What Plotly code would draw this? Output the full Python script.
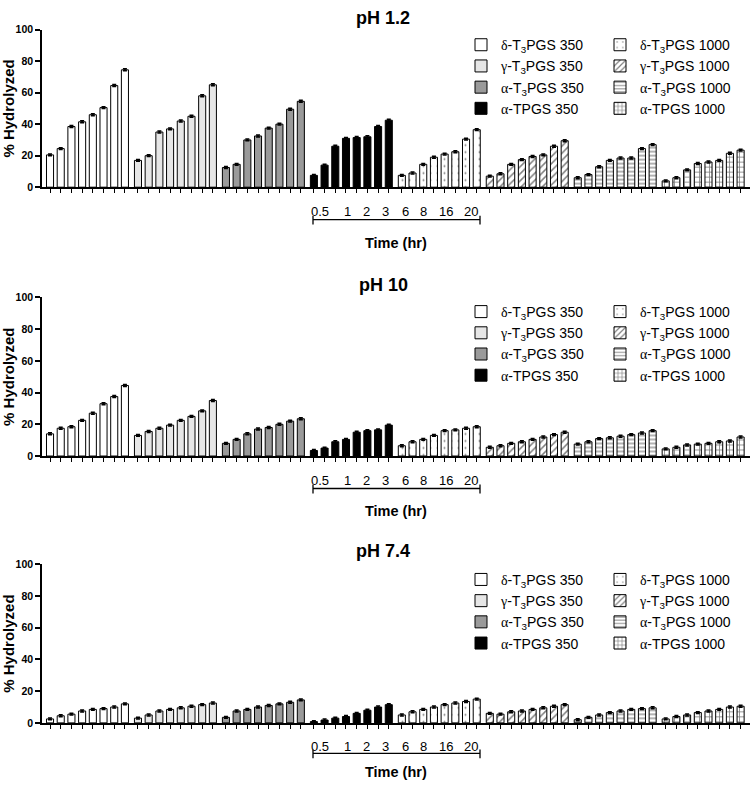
import plotly.graph_objects as go

# ---------------- data ----------------
time_labels = ["0.5", "1", "2", "3", "6", "8", "16", "20"]
panel_titles = ["pH 1.2", "pH 10", "pH 7.4"]

GK = '<span style="font-family:Liberation Serif">%s</span>'
series_names = [
    GK % "δ" + "-T<sub>3</sub>PGS 350",
    GK % "γ" + "-T<sub>3</sub>PGS 350",
    GK % "α" + "-T<sub>3</sub>PGS 350",
    GK % "α" + "-TPGS 350",
    GK % "δ" + "-T<sub>3</sub>PGS 1000",
    GK % "γ" + "-T<sub>3</sub>PGS 1000",
    GK % "α" + "-T<sub>3</sub>PGS 1000",
    GK % "α" + "-TPGS 1000",
]

# pH 1.2
ph12_d350 = [20.5, 24.5, 38.5, 41.5, 46, 50.5, 64.5, 74.5]
ph12_g350 = [17, 20, 35, 37, 42, 45, 58, 65]
ph12_a350 = [12.5, 14.5, 30, 32.5, 37.5, 40, 49.5, 54.5]
ph12_t350 = [7.5, 14, 26, 31, 31.5, 32, 38.5, 42.5]
ph12_d1000 = [7.5, 9, 14.5, 19, 21, 22.5, 30.5, 36.5]
ph12_g1000 = [7, 8.5, 14.5, 17.5, 19.5, 20.5, 26, 29.5]
ph12_a1000 = [6, 8, 13, 17, 18.5, 18.5, 24.5, 27]
ph12_t1000 = [4, 6, 11, 15, 16, 17, 21.5, 23.5]

# pH 10
ph10_d350 = [14, 17.5, 18.5, 22.5, 27, 33, 37.5, 44.5]
ph10_g350 = [13, 15.5, 17.5, 19.5, 22.5, 25, 28.5, 35]
ph10_a350 = [8, 10.5, 14, 17, 18, 20, 22, 23.5]
ph10_t350 = [3.5, 5, 9, 10.5, 15, 16, 16.5, 19.5]
ph10_d1000 = [6.5, 9, 10.5, 13, 16, 16.5, 17.5, 18.5]
ph10_g1000 = [5.5, 6.5, 8, 9, 10.5, 12, 13.5, 15]
ph10_a1000 = [7.5, 9, 11, 11.5, 12.5, 13.5, 14.5, 16]
ph10_t1000 = [4.5, 5.5, 7, 7.5, 8, 9, 9.5, 12]

# pH 7.4
ph74_d350 = [2.5, 4.5, 5.5, 7.5, 8.5, 9, 10, 12]
ph74_g350 = [3, 5, 7.5, 8.5, 9.5, 10.5, 11.5, 12.5]
ph74_a350 = [3.5, 7.5, 8.5, 10, 11, 12, 13, 14.5]
ph74_t350 = [0.8, 1.8, 3, 4, 6, 8, 10, 11.5]
ph74_d1000 = [5, 7, 8.5, 10, 11.5, 12.5, 13.5, 15]
ph74_g1000 = [6, 5.5, 7, 7.5, 8.5, 9.5, 10.5, 11.5]
ph74_a1000 = [2, 3.5, 5, 6.5, 7.5, 8.5, 9, 9.5]
ph74_t1000 = [2.5, 4, 5, 6.5, 7.5, 8.5, 10, 10.5]

error_value = 0.6
y_ticks = [0, 20, 40, 60, 80, 100]

panels = [
    [ph12_d350, ph12_g350, ph12_a350, ph12_t350, ph12_d1000, ph12_g1000, ph12_a1000, ph12_t1000],
    [ph10_d350, ph10_g350, ph10_a350, ph10_t350, ph10_d1000, ph10_g1000, ph10_a1000, ph10_t1000],
    [ph74_d350, ph74_g350, ph74_a350, ph74_t350, ph74_d1000, ph74_g1000, ph74_a1000, ph74_t1000],
]

# ---------------- styles / layout ----------------
W, H = 750, 786
ML = 42
PW = W - ML
FONT = "Liberation Sans, Arial, sans-serif"
fills = ["#ffffff", "#e6e6e6", "#9a9a9a", "#000000", "#ffffff", "#ffffff", "#ffffff", "#ffffff"]
shapes_pat = ["", "", "", "", ".", "/", "-", "+"]
pat_size = [8, 8, 8, 8, 7, 5, 4, 5]
pat_solid = [0.3, 0.3, 0.3, 0.3, 0.06, 0.3, 0.3, 0.3]
GROUP_PITCH = 8.22
BAR_W = 0.66

panel_px = [(24, 184), (296, 457), (567, 728)]  # top, bottom (y=100, y=0)
title_y = [12, 283, 553]
time_offsets = [(25, 33, 57), (25, 33, 56), (24, 31, 50)]
time_label_px = [320, 347, 366, 385, 405, 423, 446, 471]
bracket_px = (313, 480)
legend_col_px = [461, 600]
legend_top_off = [-0.5, -1.5, -0.5]


def px_x(px):
    return (px - ML) / PW


def px_y(py):
    return 1 - py / H


fig = go.Figure()
layout = dict(
    width=W, height=H,
    margin=dict(l=ML, r=0, t=0, b=0),
    plot_bgcolor="white", paper_bgcolor="white",
    barmode="overlay",
    font=dict(family=FONT, color="black"),
    showlegend=True,
)

annotations = []
shapes = []
xpos = [g * GROUP_PITCH + i for g in range(8) for i in range(8)]

for p, series in enumerate(panels):
    sfx = "" if p == 0 else str(p + 1)
    xa, ya = "x" + sfx, "y" + sfx
    top, bot = panel_px[p]
    for s, vals in enumerate(series):
        leg_id = 2 * p + (0 if s < 4 else 1)
        leg_name = "legend" if leg_id == 0 else "legend" + str(leg_id + 1)
        fig.add_trace(go.Bar(
            x=[s * GROUP_PITCH + i for i in range(len(vals))],
            y=vals,
            width=BAR_W,
            name=series_names[s],
            marker=dict(
                color=fills[s],
                line=dict(color="black", width=1),
                pattern=dict(shape=shapes_pat[s], fgcolor="black", bgcolor="white",
                             size=pat_size[s], solidity=pat_solid[s], fillmode="overlay"),
            ),
            error_y=dict(type="constant", value=error_value, color="black",
                         thickness=1.5, width=2),
            xaxis=xa, yaxis=ya,
            legend=leg_name,
            hoverinfo="skip",
        ))
    layout["xaxis" + sfx] = dict(
        domain=[0, 1], anchor=ya, range=[-0.75, -0.75 + PW / 10.7],
        showline=True, linecolor="black", linewidth=1.5,
        ticks="outside", ticklen=4, tickwidth=1, tickcolor="black",
        tickvals=xpos, showticklabels=False, showgrid=False, zeroline=False,
    )
    layout["yaxis" + sfx] = dict(
        domain=[px_y(bot), px_y(top)], anchor=xa, range=[0, 100],
        tickvals=y_ticks,
        showline=True, linecolor="black", linewidth=1.5,
        ticks="outside", ticklen=5, tickwidth=1.5, tickcolor="black",
        tickfont=dict(size=10.5, family=FONT, weight="bold"),
        showgrid=False, zeroline=False,
        title=dict(text="% Hydrolyzed", font=dict(size=15, family=FONT, weight="bold"),
                   standoff=3),
    )
    for c in range(2):
        leg_id = 2 * p + c
        leg_name = "legend" if leg_id == 0 else "legend" + str(leg_id + 1)
        layout[leg_name] = dict(
            x=px_x(legend_col_px[c]), xanchor="left",
            y=px_y(top + legend_top_off[p]), yanchor="top",
            orientation="v", bgcolor="rgba(0,0,0,0)", borderwidth=0,
            font=dict(size=14, family=FONT, color="black"),
            itemclick=False, itemdoubleclick=False,
        )
    # title
    annotations.append(dict(
        text="<b>%s</b>" % panel_titles[p], x=px_x(383), y=px_y(title_y[p]),
        xref="paper", yref="paper", showarrow=False, xanchor="center", yanchor="middle",
        font=dict(size=18, family=FONT),
    ))
    lab_off, br_off, time_off = time_offsets[p]
    for lbl, lx in zip(time_labels, time_label_px):
        annotations.append(dict(
            text=lbl, x=px_x(lx), y=px_y(bot + lab_off), xref="paper", yref="paper",
            showarrow=False, xanchor="center", yanchor="middle",
            font=dict(size=13, family=FONT),
        ))
    annotations.append(dict(
        text="<b>Time (hr)</b>", x=px_x(396), y=px_y(bot + time_off), xref="paper", yref="paper",
        showarrow=False, xanchor="center", yanchor="middle",
        font=dict(size=14.5, family=FONT),
    ))
    by = px_y(bot + br_off)
    shapes.append(dict(type="line", xref="paper", yref="paper",
                       x0=px_x(bracket_px[0]), x1=px_x(bracket_px[1]), y0=by, y1=by,
                       line=dict(color="black", width=1.3)))
    for bx in bracket_px:
        shapes.append(dict(type="line", xref="paper", yref="paper",
                           x0=px_x(bx), x1=px_x(bx), y0=px_y(bot + br_off - 4),
                           y1=px_y(bot + br_off + 5),
                           line=dict(color="black", width=1.3)))

layout["annotations"] = annotations
layout["shapes"] = shapes
fig.update_layout(**layout)
fig.write_html("out.html", config={"displayModeBar": False},
               post_script="document.body.style.margin='0';")
